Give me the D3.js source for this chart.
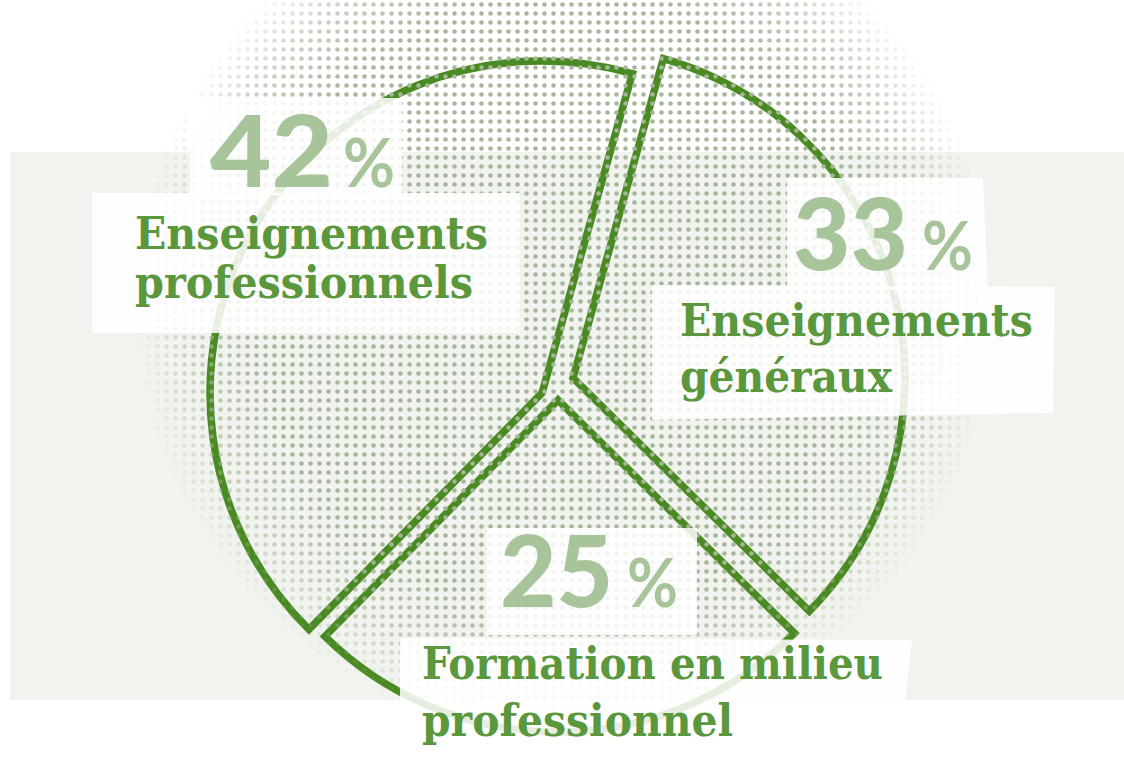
<!DOCTYPE html>
<html>
<head>
<meta charset="utf-8">
<script src="https://cdn.jsdelivr.net/npm/d3@7"></script>
<style>
  html, body { margin: 0; padding: 0; background: #ffffff; }
  svg { display: block; }
</style>
</head>
<body>
<svg id="chart" width="1124" height="772"></svg>
<script>
// ---------------- DATA ----------------
const categories = ["Enseignements généraux", "Formation en milieu professionnel", "Enseignements professionnels"];
const values = [33, 25, 42];
const percentLabels = ["33", "25", "42"];
const labelLines = [
  ["Enseignements", "généraux"],
  ["Formation en milieu", "professionnel"],
  ["Enseignements", "professionnels"]
];

// ---------------- LAYOUT / STYLE ----------------
const W = 1124, H = 772;
const CX = 556, CY = 386, R = 332;
const START_DEG = 15.8;
const sliceShift = [[17, -8], [2, 14], [-14, 7]];   // exploded offsets
const COL_STROKE = "#4a8a22";
const COL_LABEL = "#5b973d";
const COL_NUM = "#a8c49b";
const COL_BAND = "#f1f4ee";
const COL_DOT = "#a7b59b";

// label layout: number (x, baseline, width), % (x, width), lines (x, baselines, widths)
const labelLayout = [
  { nx: 793, ny: 270, nw: 115, px: 922, pw: 51, lx: 680, ly: [336, 392], lw: [353, 212] },
  { nx: 500, ny: 607, nw: 113, px: 627, pw: 51, lx: 422, ly: [679, 736], lw: [461, 311] },
  { nx: 210, ny: 187, nw: 123, px: 343, pw: 52, lx: 135, ly: [249, 298], lw: [353, 338] }
];
// translucent white panels behind the labels
const panels = [
  [[190, 98], [402, 98], [402, 195], [190, 195]],
  [[92, 193], [520, 193], [520, 333], [92, 333]],
  [[787, 178], [983, 178], [988, 290], [787, 290]],
  [[652, 285], [1055, 287], [1053, 413], [652, 420]],
  [[487, 528], [697, 528], [697, 635], [487, 635]],
  [[400, 638], [912, 640], [898, 772], [400, 772]]
];

const svg = d3.select("#chart");
const defs = svg.append("defs");

// dot pattern (halftone)
const pat = defs.append("pattern")
  .attr("id", "dots").attr("patternUnits", "userSpaceOnUse")
  .attr("width", 9).attr("height", 9);
pat.append("circle").attr("cx", 4.5).attr("cy", 4.5).attr("r", 2.3).attr("fill", COL_DOT);

const rg = defs.append("radialGradient")
  .attr("id", "dotFade").attr("gradientUnits", "userSpaceOnUse")
  .attr("cx", 565).attr("cy", 305).attr("r", 430);
rg.append("stop").attr("offset", 0).attr("stop-color", "#fff");
rg.append("stop").attr("offset", 0.72).attr("stop-color", "#fff");
rg.append("stop").attr("offset", 0.87).attr("stop-color", "#999");
rg.append("stop").attr("offset", 1).attr("stop-color", "#000");
defs.append("mask").attr("id", "dotMask")
  .append("rect").attr("width", W).attr("height", H).attr("fill", "url(#dotFade)");

// background band
svg.append("rect").attr("x", 10).attr("y", 152).attr("width", W - 10).attr("height", 548).attr("fill", COL_BAND);

// pie
const pie = d3.pie().sort(null).value(d => d)
  .startAngle(START_DEG * Math.PI / 180)
  .endAngle(START_DEG * Math.PI / 180 + 2 * Math.PI);
const arc = d3.arc().innerRadius(0).outerRadius(R);
const arcs = pie(values);

svg.append("g").attr("transform", `translate(${CX},${CY})`)
  .selectAll("path").data(arcs).join("path")
  .attr("transform", (d, i) => `translate(${sliceShift[i][0]},${sliceShift[i][1]})`)
  .attr("d", arc)
  .attr("fill", "none")
  .attr("stroke", COL_STROKE)
  .attr("stroke-width", 7.5)
  .attr("stroke-linejoin", "miter")
  .attr("stroke-miterlimit", 10);

// halftone dots over the pie
svg.append("rect").attr("width", W).attr("height", H)
  .attr("fill", "url(#dots)").attr("mask", "url(#dotMask)");

// panels
svg.append("g").selectAll("polygon").data(panels).join("polygon")
  .attr("points", d => d.map(p => p.join(",")).join(" "))
  .attr("fill", "#ffffff").attr("fill-opacity", 0.86);

// labels
const lg = svg.append("g");
arcs.forEach((a, i) => {
  const L = labelLayout[i];
  lg.append("text")
    .attr("x", L.nx).attr("y", L.ny)
    .attr("textLength", L.nw).attr("lengthAdjust", "spacingAndGlyphs")
    .attr("font-family", "Lato, 'Open Sans', sans-serif")
    .attr("font-weight", 900).attr("font-size", 100)
    .attr("fill", COL_NUM)
    .text(percentLabels[i]);
  lg.append("text")
    .attr("x", L.px).attr("y", L.ny)
    .attr("textLength", L.pw).attr("lengthAdjust", "spacingAndGlyphs")
    .attr("font-family", "Lato, 'Open Sans', sans-serif")
    .attr("font-weight", 700).attr("font-size", 66)
    .attr("fill", COL_NUM)
    .text("%");
  labelLines[i].forEach((line, j) => {
    lg.append("text")
      .attr("x", L.lx).attr("y", L.ly[j])
      .attr("textLength", L.lw[j]).attr("lengthAdjust", "spacingAndGlyphs")
      .attr("font-family", "'DejaVu Serif Condensed', 'DejaVu Serif', serif")
      .attr("font-weight", 700).attr("font-size", 45)
      .attr("fill", COL_LABEL)
      .text(line);
  });
});
</script>
</body>
</html>
